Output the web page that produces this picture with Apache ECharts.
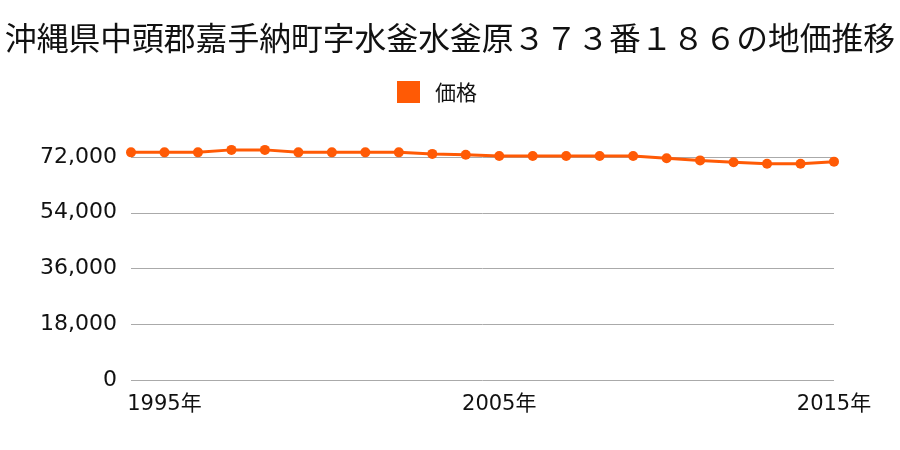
<!DOCTYPE html>
<html>
<head>
<meta charset="utf-8">
<script src="https://cdn.jsdelivr.net/npm/echarts@6/dist/echarts.min.js"></script>
<style>
  html, body { margin: 0; padding: 0; background: #fff; }
  #chart { width: 900px; height: 450px; }
</style>
</head>
<body>
<div id="chart"></div>
<script>
const titleText = '沖縄県中頭郡嘉手納町字水釜水釜原３７３番１８６の地価推移';
const seriesName = '価格';
const years = ['1994', '1995', '1996', '1997', '1998', '1999', '2000', '2001', '2002', '2003', '2004',
  '2005', '2006', '2007', '2008', '2009', '2010', '2011', '2012', '2013', '2014', '2015'];
const prices = [73500, 73500, 73500, 74300, 74300, 73500, 73500, 73500, 73500, 73000, 72700,
  72300, 72300, 72300, 72300, 72300, 71600, 70900, 70300, 69800, 69800, 70500];

const chart = echarts.init(document.getElementById('chart'));

const option = {
  animation: false,
  textStyle: {
    fontFamily: '"DejaVu Sans", "Noto Sans CJK JP", sans-serif'
  },
  title: {
    text: titleText,
    left: 'center',
    top: 17,
    textStyle: {
      fontFamily: '"Noto Sans CJK JP", sans-serif',
      fontSize: 31.8,
      fontWeight: 'normal',
      color: '#111'
    }
  },
  legend: {
    top: 76,
    left: 392,
    itemWidth: 23,
    itemHeight: 22,
    icon: 'rect',
    data: [seriesName],
    textStyle: {
      fontFamily: '"Noto Sans CJK JP", sans-serif',
      fontSize: 21,
      color: '#111',
      padding: [0, 0, 0, 10]
    }
  },
  grid: {
    left: 131,
    right: 66,
    top: 157,
    bottom: 70,
    containLabel: false
  },
  xAxis: {
    type: 'category',
    boundaryGap: false,
    data: years,
    axisLine: { show: false },
    axisTick: { show: false },
    axisLabel: {
      margin: 14,
      fontSize: 21,
      color: '#111',
      interval: function (index) { return index % 10 === 1; },
      formatter: function (v) { return v + '年'; }
    }
  },
  yAxis: {
    type: 'value',
    min: 0,
    max: 72000,
    interval: 18000,
    axisLine: { show: false },
    axisTick: { show: false },
    splitLine: { lineStyle: { color: '#aaaaaa', width: 1 } },
    axisLabel: {
      margin: 14,
      fontSize: 22,
      color: '#111',
      formatter: function (v) { return v.toLocaleString('en-US'); }
    }
  },
  series: [{
    name: seriesName,
    type: 'line',
    data: prices,
    clip: false,
    symbol: 'circle',
    symbolSize: 10,
    color: '#ff5a05',
    lineStyle: { width: 3, color: '#ff5a05' },
    itemStyle: { color: '#ff5a05' }
  }]
};

chart.setOption(option);
</script>
</body>
</html>
